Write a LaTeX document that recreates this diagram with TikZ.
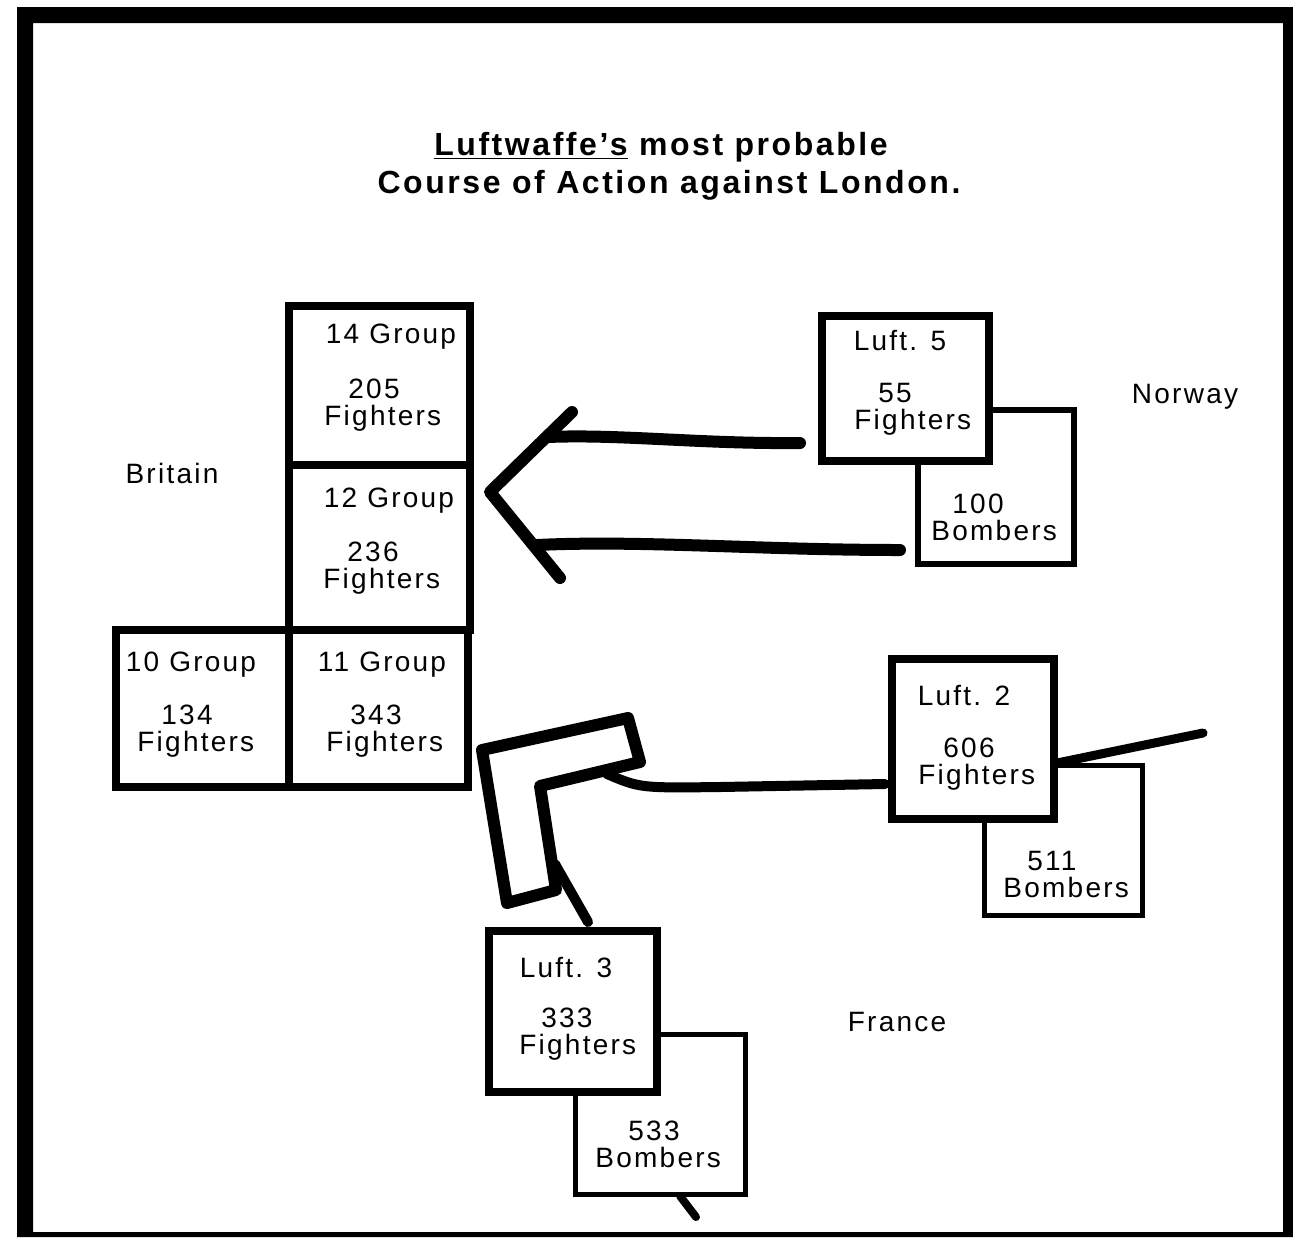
\documentclass[tikz,border=0pt]{standalone}
\usepackage{fontspec}
\setmainfont{Liberation Sans}[LetterSpace=8]
\usetikzlibrary{calc}
\tikzset{
  lbl/.style={inner sep=0pt, font=\fontsize{14}{13.5}\selectfont},
  pair/.style={lbl, align=left, anchor=west},
  ttl/.style={inner sep=0pt, align=center, font=\fontsize{16}{19}\selectfont\bfseries},
  gbox/.style={draw, line width=4pt, inner sep=0pt, fill=white},
  fbox/.style={draw, line width=4pt, inner sep=0pt, fill=white},
  bbox/.style={draw, line width=2.8pt, inner sep=0pt, fill=white},
  stroke/.style={line width=6pt, line cap=round, line join=round},
  thinstroke/.style={line width=4.5pt, line cap=round, line join=round}
}
\begin{document}
\begin{tikzpicture}[x=0.5pt,y=-0.5pt]
\useasboundingbox (0,0) rectangle (1293,1237);
% frame
\fill[even odd rule] (17,7) rectangle (1293,1237) (33,23) rectangle (1283,1232);

% title
\node[ttl] (title) at (669,166) {\hspace*{-8pt}\underline{Luftwaffe’s} most probable\\Course of Action against London.};

% Britain groups
\node[gbox, minimum width=90.5pt, minimum height=79.5pt] (g14) at (379.5,385.5) {};
\node[gbox, minimum width=90.5pt, minimum height=82.5pt] (g12) at (379.5,547.5) {};
\node[gbox, minimum width=89.5pt, minimum height=78.5pt] (g11) at (378.5,708.5) {};
\node[gbox, minimum width=86.5pt, minimum height=78.5pt] (g10) at (202.5,708.5) {};

\node[lbl] (g14a) at (391,337) {14 Group};
\node[pair] (g14b) at (324,405) {\hspace*{12pt}205\\Fighters};
\node[lbl] (g12a) at (389,501) {12 Group};
\node[pair] (g12b) at (323,568) {\hspace*{12pt}236\\Fighters};
\node[lbl] (g10a) at (191,665) {10 Group};
\node[pair] (g10b) at (137,731) {\hspace*{12pt}134\\Fighters};
\node[lbl] (g11a) at (382,665) {11 Group};
\node[pair] (g11b) at (326,731) {\hspace*{12pt}343\\Fighters};
\node[lbl] (britain) at (172,473) {Britain};

% Luft 5
\node[bbox, minimum width=78pt, minimum height=77pt] (l5b) at (996,487) {};
\node[fbox, minimum width=83.5pt, minimum height=72.5pt] (l5f) at (905.5,388.5) {};
\node[lbl] (l5a) at (900,340) {Luft. 5};
\node[pair] (l5c) at (854,409) {\hspace*{12pt}55\\Fighters};
\node[pair] (l5e) at (931,517) {\hspace*{10.5pt}100\\Bombers};
\node[lbl] (norway) at (1185,397) {Norway};

% Luft 2
\node[bbox, minimum width=79pt, minimum height=75pt] (l2b) at (1063.5,840.5) {};
\node[fbox, minimum width=81pt, minimum height=80pt] (l2f) at (972.5,738.5) {};
\node[lbl] (l2a) at (964,695) {Luft. 2};
\node[pair] (l2c) at (918,764) {\hspace*{12.5pt}606\\Fighters};
\node[pair] (l2e) at (1003,874) {\hspace*{12pt}511\\Bombers};

% Luft 3
\node[bbox, minimum width=85pt, minimum height=80pt] (l3b) at (660.5,1114.5) {};
\node[fbox, minimum width=84pt, minimum height=80.5pt] (l3f) at (572.5,1011) {};
\node[lbl] (l3a) at (566,967) {Luft. 3};
\node[pair] (l3c) at (519,1034) {\hspace*{11pt}333\\Fighters};
\node[pair] (l3e) at (595,1144) {\hspace*{16.5pt}533\\Bombers};
\node[lbl] (france) at (897,1022) {France};

% Norway arrow (double shaft with chevron head)
\coordinate (n1s) at (800,443);
\coordinate (n1e) at (548,437);
\coordinate (n2s) at (900,550);
\coordinate (n2e) at (537,545);
\coordinate (hA) at (572,412);
\coordinate (hB) at (490,492);
\coordinate (hC) at (560,578);
\draw[stroke] (n1s) .. controls (700,444) and (620,434) .. (n1e);
\draw[stroke] (n2s) .. controls (760,550) and (640,540) .. (n2e);
\draw[stroke] (hA) -- (hB) -- (hC);

% France L-shaped arrow
\coordinate (la) at (482,750);
\coordinate (lb) at (628,718);
\coordinate (lc) at (640,762);
\coordinate (ld) at (540,786);
\coordinate (le) at (556,890);
\coordinate (lf) at (507,903);
\draw[stroke] (la) -- (lb) -- (lc) -- (ld) -- (le) -- (lf) -- cycle;

% Luft 2 connector to arrow
\coordinate (l2s) at (607,774);
\coordinate (l2w) at (885,784);
\draw[line width=5pt, line cap=round] (l2w) -- (720,787) .. controls (640,788) .. (l2s);
% Luft 2 outgoing line
\coordinate (l2o) at (1203,733);
\coordinate (l2i) at (1057,763);
\draw[thinstroke] (l2i) -- (l2o);

% Luft 3 connector to arrow
\coordinate (l3t) at (588,922);
\coordinate (l3u) at (555,864);
\draw[line width=5pt, line cap=round] (l3t) -- (l3u);
% line below Luft 3 bombers
\coordinate (l3s) at (680,1196);
\coordinate (l3x) at (696,1217);
\draw[line width=4pt, line cap=round] (l3s) -- (l3x);
\end{tikzpicture}
\end{document}
